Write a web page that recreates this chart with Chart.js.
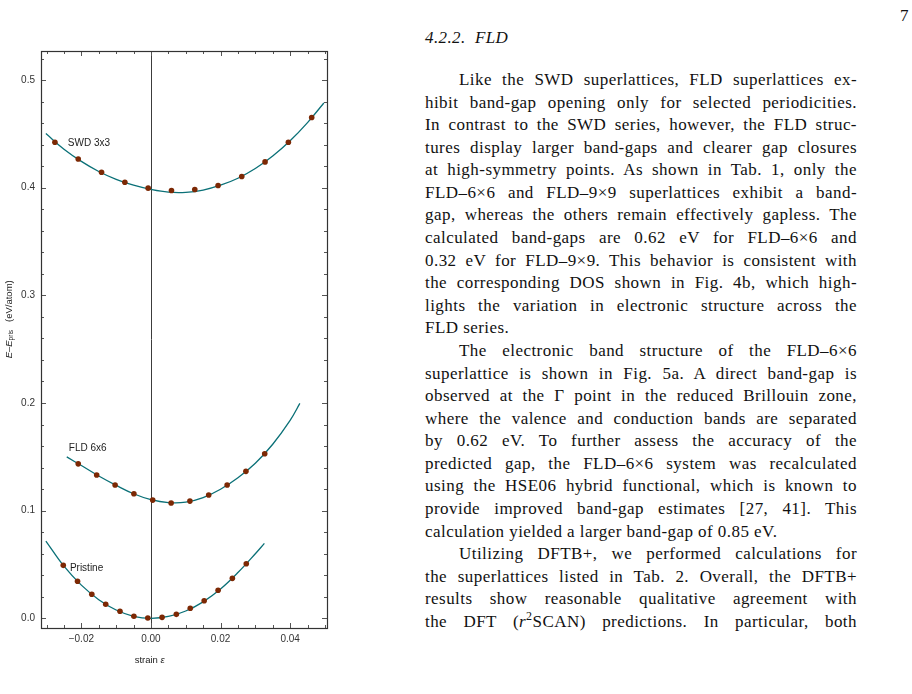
<!DOCTYPE html>
<html>
<head>
<meta charset="utf-8">
<script src="https://cdn.jsdelivr.net/npm/chart.js@4.4.1/dist/chart.umd.min.js"></script>
<style>
  body { margin: 0; background: #fff; width: 912px; height: 694px; overflow: hidden; position: relative; }
  #plot { position: absolute; left: 0; top: 0; }
  .serif { font-family: "Liberation Serif", serif; color: #111; }
  #page { position: absolute; left: 900px; top: 6px; font-size: 17px; }
  #head { position: absolute; left: 425px; top: 28px; font-size: 17px; font-style: italic; letter-spacing: 0.4px; }
  #body { position: absolute; left: 425px; top: 69px; width: 432px; font-size: 17px; letter-spacing: 0.45px; }
  .ln { height: 22.58px; line-height: 22.58px; text-align: justify; text-align-last: justify; }
  .ln.end { text-align-last: left; }
  .ind { padding-left: 34px; }
</style>
</head>
<body>
<canvas id="plot" width="340" height="694"></canvas>

<div id="page" class="serif">7</div>
<div id="head" class="serif">4.2.2.&nbsp; FLD</div>
<div id="body" class="serif">
  <div class="ln ind">Like the SWD superlattices, FLD superlattices ex-</div>
  <div class="ln">hibit band-gap opening only for selected periodicities.</div>
  <div class="ln">In contrast to the SWD series, however, the FLD struc-</div>
  <div class="ln">tures display larger band-gaps and clearer gap closures</div>
  <div class="ln">at high-symmetry points. As shown in Tab. 1, only the</div>
  <div class="ln">FLD–6×6 and FLD–9×9 superlattices exhibit a band-</div>
  <div class="ln">gap, whereas the others remain effectively gapless. The</div>
  <div class="ln">calculated band-gaps are 0.62 eV for FLD–6×6 and</div>
  <div class="ln">0.32 eV for FLD–9×9. This behavior is consistent with</div>
  <div class="ln">the corresponding DOS shown in Fig. 4b, which high-</div>
  <div class="ln">lights the variation in electronic structure across the</div>
  <div class="ln end">FLD series.</div>
  <div class="ln ind">The electronic band structure of the FLD–6×6</div>
  <div class="ln">superlattice is shown in Fig. 5a. A direct band-gap is</div>
  <div class="ln">observed at the Γ point in the reduced Brillouin zone,</div>
  <div class="ln">where the valence and conduction bands are separated</div>
  <div class="ln">by 0.62 eV. To further assess the accuracy of the</div>
  <div class="ln">predicted gap, the FLD–6×6 system was recalculated</div>
  <div class="ln">using the HSE06 hybrid functional, which is known to</div>
  <div class="ln">provide improved band-gap estimates [27, 41]. This</div>
  <div class="ln end">calculation yielded a larger band-gap of 0.85 eV.</div>
  <div class="ln ind">Utilizing DFTB+, we performed calculations for</div>
  <div class="ln">the superlattices listed in Tab. 2. Overall, the DFTB+</div>
  <div class="ln">results show reasonable qualitative agreement with</div>
  <div class="ln">the DFT (<i>r</i><sup style="font-size:12px;line-height:0">2</sup>SCAN) predictions. In particular, both</div>
</div>

<script>
// computed points (strain, E - E_pris in eV/atom)
const swdStrain = [-0.0276, -0.0209, -0.0142, -0.0075, -0.0008, 0.0059, 0.0126, 0.0193, 0.0261, 0.0328, 0.0395, 0.0462];
const swdEnergy = [0.4422, 0.4267, 0.4144, 0.4051, 0.3996, 0.3974, 0.3983, 0.4020, 0.4104, 0.4240, 0.4422, 0.4652];

const fldStrain = [-0.0209, -0.0156, -0.0103, -0.0049, 0.0005, 0.0058, 0.0112, 0.0166, 0.0219, 0.0273, 0.0327];
const fldEnergy = [0.1435, 0.1331, 0.1238, 0.1157, 0.1098, 0.1071, 0.1089, 0.1145, 0.1238, 0.1365, 0.1528];

const priStrain = [-0.0252, -0.0211, -0.0170, -0.0130, -0.0089, -0.0049, -0.0009, 0.0032, 0.0073, 0.0113, 0.0153, 0.0193, 0.0234, 0.0274];
const priEnergy = [0.0492, 0.0344, 0.0223, 0.0130, 0.0065, 0.0019, 0.0003, 0.0009, 0.0037, 0.0093, 0.0163, 0.0260, 0.0371, 0.0507];

// fitted curves
const swdFitStrain = [-0.0302, -0.025, -0.020, -0.015, -0.010, -0.005, 0, 0.005, 0.010, 0.015, 0.020, 0.025, 0.030, 0.035, 0.040, 0.045, 0.0497];
const swdFitEnergy = [0.4503, 0.4358, 0.4245, 0.4151, 0.4078, 0.4023, 0.3984, 0.3959, 0.3957, 0.3978, 0.4023, 0.4088, 0.4178, 0.4294, 0.4436, 0.4605, 0.4787];

const fldFitStrain = [-0.0242, -0.020, -0.015, -0.010, -0.005, 0, 0.005, 0.010, 0.015, 0.020, 0.025, 0.030, 0.035, 0.040, 0.0428];
const fldFitEnergy = [0.1500, 0.1419, 0.1322, 0.1235, 0.1157, 0.1102, 0.1075, 0.1079, 0.1122, 0.1199, 0.1305, 0.1440, 0.1617, 0.1839, 0.1996];

const priFitStrain = [-0.0302, -0.025, -0.020, -0.015, -0.010, -0.005, 0, 0.005, 0.010, 0.015, 0.020, 0.025, 0.030, 0.0326];
const priFitEnergy = [0.0718, 0.0484, 0.0308, 0.0173, 0.0077, 0.0019, 0.0000, 0.0017, 0.0068, 0.0153, 0.0272, 0.0425, 0.0600, 0.0696];

// curve labels and where they sit (data coords of the left edge)
const curveNames = ['SWD 3x3', 'FLD 6x6', 'Pristine'];
const curveNameX = [-0.0239, -0.0236, -0.0233];
const curveNameY = [0.441, 0.158, 0.0467];

const xMajorStep = 0.02;
const yMajorStep = 0.1;

const dotColor = '#7c2804';
const fitColor = '#0a7077';
const sans = '"Liberation Sans", Arial, sans-serif';

function pts(xs, ys) {
    return xs.map((v, i) => ({x: v, y: ys[i]}));
}

function isMajor(v, step) {
    const k = v / step;
    return Math.abs(k - Math.round(k)) < 1e-6;
}

function dots(xs, ys) {
    return {
        data: pts(xs, ys),
        showLine: false,
        pointRadius: 2.8,
        pointBorderWidth: 0,
        pointBackgroundColor: dotColor,
        order: 0
    };
}

function fit(xs, ys) {
    return {
        data: pts(xs, ys),
        showLine: true,
        borderColor: fitColor,
        borderWidth: 1.3,
        pointRadius: 0,
        tension: 0.4,
        order: 1
    };
}

const frameAndLabels = {
    id: 'frameAndLabels',
    beforeDatasetsDraw(chart) {
        const {ctx, chartArea: a, scales: {x}} = chart;
        const x0 = x.getPixelForValue(0);
        ctx.save();
        ctx.strokeStyle = '#3c3c3c';
        ctx.lineWidth = 1;
        ctx.beginPath();
        ctx.moveTo(Math.round(x0) + 0.5, a.top);
        ctx.lineTo(Math.round(x0) + 0.5, a.bottom);
        ctx.stroke();
        ctx.restore();
    },
    afterDraw(chart) {
        const {ctx, chartArea: a, scales: {x, y}} = chart;
        ctx.save();

        // inward ticks on all four sides
        ctx.strokeStyle = '#555';
        ctx.lineWidth = 1;
        ctx.beginPath();
        x.ticks.forEach(t => {
            const px = Math.round(x.getPixelForValue(t.value)) + 0.5;
            const len = isMajor(t.value, xMajorStep) ? 5 : 3;
            ctx.moveTo(px, a.bottom); ctx.lineTo(px, a.bottom - len);
            ctx.moveTo(px, a.top); ctx.lineTo(px, a.top + len);
        });
        y.ticks.forEach(t => {
            const py = Math.round(y.getPixelForValue(t.value)) + 0.5;
            const len = isMajor(t.value, yMajorStep) ? 5 : 3;
            ctx.moveTo(a.left, py); ctx.lineTo(a.left + len, py);
            ctx.moveTo(a.right, py); ctx.lineTo(a.right - len, py);
        });
        ctx.stroke();

        // frame
        ctx.strokeStyle = '#333';
        ctx.lineWidth = 1.2;
        ctx.strokeRect(Math.round(a.left) + 0.5, Math.round(a.top) + 0.5,
            Math.round(a.right - a.left), Math.round(a.bottom - a.top));

        // curve labels
        ctx.fillStyle = '#222';
        ctx.font = '10px ' + sans;
        ctx.textBaseline = 'middle';
        ctx.textAlign = 'left';
        curveNames.forEach((n, i) => {
            ctx.fillText(n, x.getPixelForValue(curveNameX[i]), y.getPixelForValue(curveNameY[i]));
        });

        // x title
        const parts = [['strain ', '9.5px ' + sans], ['ε', 'italic 9.5px ' + sans]];
        let w = 0;
        parts.forEach(p => { ctx.font = p[1]; w += ctx.measureText(p[0]).width; });
        let cx = a.left + (a.right - a.left) * 0.38 - w / 2;
        parts.forEach(p => {
            ctx.font = p[1];
            ctx.fillText(p[0], cx, a.bottom + 32);
            cx += ctx.measureText(p[0]).width;
        });

        // y title, rotated
        const yparts = [
            ['E', 'italic 9.5px ' + sans, 0],
            ['–', '9.5px ' + sans, 0],
            ['E', 'italic 9.5px ' + sans, 0],
            ['pris', '6.5px ' + sans, 2.5],
            ['   (eV/atom)', '9.5px ' + sans, 0]
        ];
        w = 0;
        yparts.forEach(p => { ctx.font = p[1]; w += ctx.measureText(p[0]).width; });
        ctx.translate(9, a.top + (a.bottom - a.top) * 0.465);
        ctx.rotate(-Math.PI / 2);
        cx = -w / 2;
        yparts.forEach(p => {
            ctx.font = p[1];
            ctx.fillText(p[0], cx, p[2]);
            cx += ctx.measureText(p[0]).width;
        });
        ctx.restore();
    }
};

new Chart(document.getElementById('plot'), {
    type: 'scatter',
    data: {
        datasets: [
            dots(swdStrain, swdEnergy),
            dots(fldStrain, fldEnergy),
            dots(priStrain, priEnergy),
            fit(swdFitStrain, swdFitEnergy),
            fit(fldFitStrain, fldFitEnergy),
            fit(priFitStrain, priFitEnergy)
        ]
    },
    options: {
        responsive: false,
        animation: false,
        layout: {padding: {top: 51, right: 13, left: 0, bottom: 0}},
        plugins: {legend: {display: false}, tooltip: {enabled: false}},
        scales: {
            x: {
                type: 'linear',
                min: -0.0316,
                max: 0.0506,
                afterFit: s => { s.height = 66; },
                grid: {display: false, drawTicks: false},
                border: {display: false},
                ticks: {
                    stepSize: 0.005,
                    includeBounds: false,
                    autoSkip: false,
                    maxRotation: 0,
                    padding: 5,
                    color: '#333',
                    font: {family: sans, size: 10},
                    callback: v => isMajor(v, xMajorStep) ? (v < -1e-9 ? '−' : '') + Math.abs(v).toFixed(2) : ''
                }
            },
            y: {
                type: 'linear',
                min: -0.009,
                max: 0.527,
                afterFit: s => { s.width = 41; },
                grid: {display: false, drawTicks: false},
                border: {display: false},
                ticks: {
                    stepSize: 0.02,
                    includeBounds: false,
                    autoSkip: false,
                    padding: 6,
                    color: '#333',
                    font: {family: sans, size: 10},
                    callback: v => isMajor(v, yMajorStep) ? Math.abs(v).toFixed(1) : ''
                }
            }
        }
    },
    plugins: [frameAndLabels]
});
</script>
</body>
</html>
